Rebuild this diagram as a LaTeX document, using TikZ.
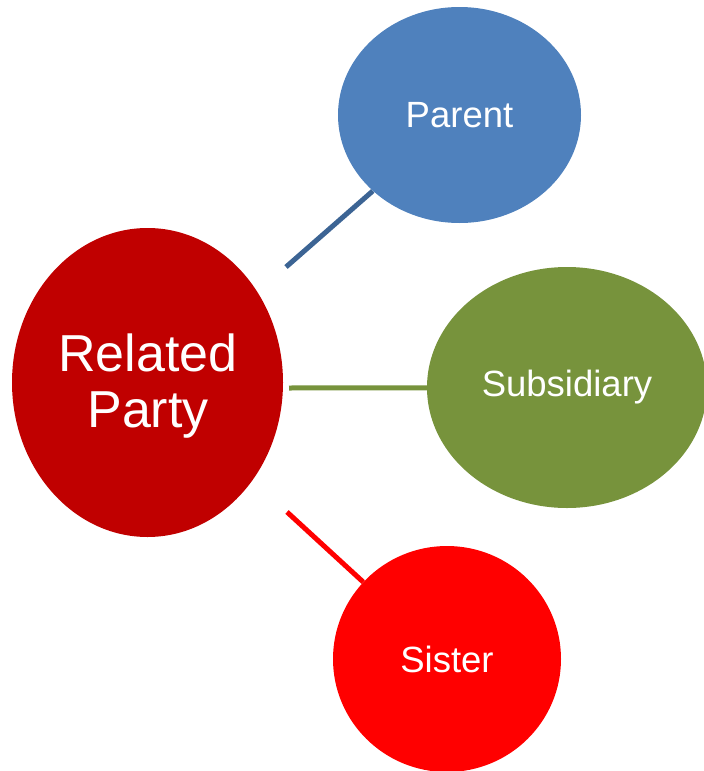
\documentclass[tikz,border=0pt]{standalone}
\usepackage{fontspec}
\setmainfont{Liberation Sans}
\usetikzlibrary{shapes.geometric,backgrounds}
\definecolor{rpred}{HTML}{C00000}
\definecolor{parblue}{HTML}{4F81BD}
\definecolor{parline}{HTML}{3C6494}
\definecolor{subgreen}{HTML}{77933C}
\definecolor{sisred}{HTML}{FF0000}
\tikzset{
  bubble/.style={ellipse, inner sep=0pt, text=white, draw=none},
  smalltext/.style={font=\fontsize{36.5}{40}\selectfont},
  link/.style={line width=5pt, line cap=butt},
}
\begin{document}
\begin{tikzpicture}[x=1pt, y=-1pt]
\useasboundingbox (0,0) rectangle (704,771);
\node[bubble, fill=rpred, minimum width=271pt, minimum height=309pt] (rp) at (147.5,382.5) {};
\node[text=white, align=center, inner sep=0pt, font=\fontsize{52}{56}\selectfont] (rpt) at (148,386) {Related\\Party};
\node[bubble, smalltext, fill=parblue, minimum width=243pt, minimum height=216pt] (parent) at (459.5,115) {Parent};
\node[bubble, smalltext, fill=subgreen, minimum width=280pt, minimum height=241pt] (sub) at (567,387.5) {Subsidiary};
\node[bubble, smalltext, fill=sisred, minimum width=228pt, minimum height=226pt] (sister) at (447,659) {Sister};
\coordinate (pa) at (286,267);
\coordinate (sa) at (289,388);
\coordinate (ia) at (287,512);
\begin{scope}[on background layer]
\draw[link, draw=parline] (pa) -- (parent);
\draw[link, draw=subgreen] (sa) -- (sub);
\draw[link, draw=sisred] (ia) -- (sister);
\end{scope}
\end{tikzpicture}
\end{document}
